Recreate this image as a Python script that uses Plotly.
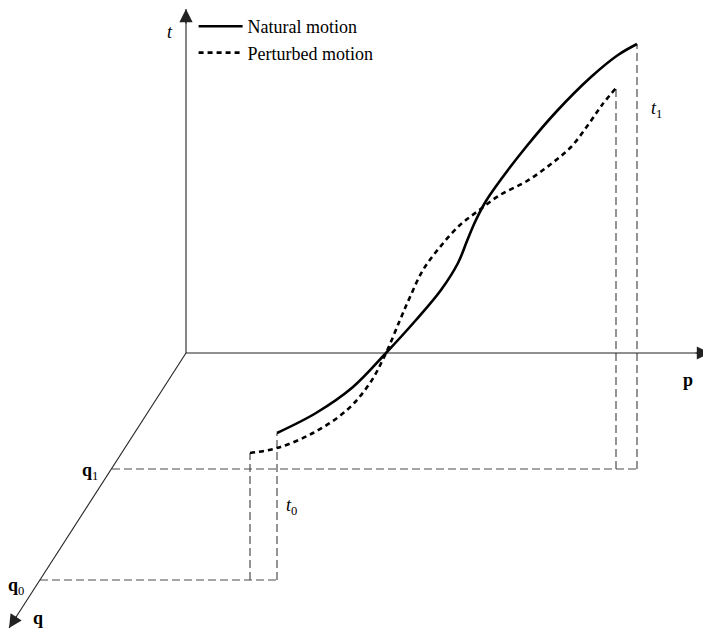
import plotly.graph_objects as go

# diagram coordinates: origin of the (q, p, t) axes at (0, 0)
natural_p = [91, 130, 167, 200, 230, 255, 272, 281, 289, 300, 316, 340, 370, 405, 432, 451]
natural_t = [-80, -60, -34, 0, 33, 63, 90, 112, 131, 152, 175, 206, 241, 276, 298, 309]

perturbed_p = [64, 91, 127, 161, 184, 200, 214, 224, 237, 254, 274, 292, 314, 341, 365, 385, 402, 416, 430]
perturbed_t = [-100, -95, -80, -57, -30, 0, 33, 56, 83, 106, 128, 142, 158, 172, 189, 206, 228, 248, 265]

# axis tips (t, p, q) and the two marked q levels on the q axis
axis_tips = [(0, 344), (524, 0), (-177, -275)]
q0_pos = (-146, -227)
q1_pos = (-74, -116)

ink = "black"
axis_col = "#222222"
guide_col = "#4d4d4d"
serif = "Liberation Serif"

fig = go.Figure()

# guide dashed lines: from the q marks across, then up to the curve ends
q0_y = q0_pos[1]
q1_y = q1_pos[1]
guides = [
    ([q0_pos[0], natural_p[0]], [q0_y, q0_y]),
    ([perturbed_p[0], perturbed_p[0]], [q0_y, perturbed_t[0]]),
    ([natural_p[0], natural_p[0]], [q0_y, natural_t[0]]),
    ([q1_pos[0], natural_p[-1]], [q1_y, q1_y]),
    ([perturbed_p[-1], perturbed_p[-1]], [q1_y, perturbed_t[-1]]),
    ([natural_p[-1], natural_p[-1]], [q1_y, natural_t[-1]]),
]
for gx, gy in guides:
    fig.add_trace(go.Scatter(x=gx, y=gy, mode="lines", showlegend=False, hoverinfo="skip",
                             line=dict(color=guide_col, width=1.2, dash="8px,4px")))

# axes: a line from the origin, plus an arrow head at the tip
for tx, ty in axis_tips:
    fig.add_trace(go.Scatter(x=[0, tx], y=[0, ty], mode="lines", showlegend=False,
                             hoverinfo="skip", cliponaxis=False,
                             line=dict(color=axis_col, width=1.1)))
    n = (tx * tx + ty * ty) ** 0.5
    fig.add_annotation(x=tx, y=ty, xref="x", yref="y", text="", showarrow=True,
                       ax=-tx / n * 16, ay=ty / n * 16, arrowhead=2, arrowsize=2.2,
                       arrowwidth=1.2, arrowcolor=axis_col, standoff=0)

fig.add_trace(go.Scatter(x=natural_p, y=natural_t, mode="lines", name="Natural motion",
                         line=dict(color=ink, width=2.6, shape="spline", smoothing=1.0)))
fig.add_trace(go.Scatter(x=perturbed_p, y=perturbed_t, mode="lines", name="Perturbed motion",
                         line=dict(color=ink, width=2.6, dash="5px,4px", shape="spline", smoothing=1.0)))

labels = [
    (-16, 321, "<i>t</i>"),
    (502, -27, "<b>p</b>"),
    (-148, -265, "<b>q</b>"),
    (-96, -118, "<b>q</b><sub>1</sub>"),
    (-170, -233, "<b>q</b><sub>0</sub>"),
    (105, -153, "<i>t</i><sub>0</sub>"),
    (470, 244, "<i>t</i><sub>1</sub>"),
]
for lx, ly, txt in labels:
    fig.add_annotation(x=lx, y=ly, text=txt, showarrow=False,
                       font=dict(family=serif, size=18, color=ink))

# the page adds an 8px body margin, so the figure is 8px smaller and the ranges shifted
fig.update_layout(
    width=703, height=624,
    margin=dict(l=0, r=0, t=0, b=0),
    paper_bgcolor="white", plot_bgcolor="white",
    xaxis=dict(range=[-178, 525], visible=False, fixedrange=True),
    yaxis=dict(range=[-279, 345], visible=False, fixedrange=True),
    legend=dict(x=0.264, y=1.0, xanchor="left", yanchor="top",
                font=dict(family=serif, size=18, color=ink),
                bgcolor="rgba(0,0,0,0)", tracegroupgap=0, itemwidth=44),
    showlegend=True,
)

fig.write_html("out.html")
